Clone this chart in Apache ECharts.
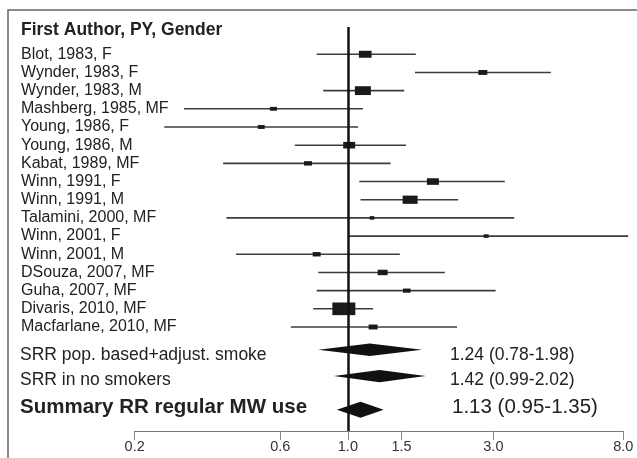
<!DOCTYPE html>
<html>
<head>
<meta charset="utf-8">
<script src="https://cdn.jsdelivr.net/npm/echarts@6/dist/echarts.min.js"></script>
<style>
  html, body { margin: 0; padding: 0; background: #fff; }
  #chart { width: 637px; height: 458px; }
</style>
</head>
<body>
<div id="chart"></div>
<script>
// study rows (top to bottom)
const studies = [
  'Blot, 1983, F', 'Wynder, 1983, F', 'Wynder, 1983, M', 'Mashberg, 1985, MF',
  'Young, 1986, F', 'Young, 1986, M', 'Kabat, 1989, MF', 'Winn, 1991, F',
  'Winn, 1991, M', 'Talamini, 2000, MF', 'Winn, 2001, F', 'Winn, 2001, M',
  'DSouza, 2007, MF', 'Guha, 2007, MF', 'Divaris, 2010, MF', 'Macfarlane, 2010, MF'
]
const rr = [1.14, 2.77, 1.12, 0.57, 0.52, 1.01, 0.74, 1.90, 1.60, 1.20, 2.84, 0.79, 1.30, 1.56, 0.97, 1.21]
const lower = [0.79, 1.66, 0.83, 0.29, 0.25, 0.67, 0.39, 1.09, 1.10, 0.40, 1.00, 0.43, 0.80, 0.79, 0.77, 0.65]
const upper = [1.67, 4.63, 1.53, 1.12, 1.08, 1.55, 1.38, 3.27, 2.30, 3.51, 8.3, 1.48, 2.08, 3.05, 1.21, 2.28]
const weights = [7.6, 3.8, 12.1, 2.3, 2.3, 6.8, 3.0, 6.8, 10.6, 1.0, 1.2, 3.0, 4.7, 2.7, 25, 3.8]

// pooled estimates
const pooledLabels = ['SRR pop. based+adjust. smoke', 'SRR in no smokers', 'Summary RR regular MW use']
const pooledRR = [1.18, 1.27, 1.10]
const pooledLower = [0.80, 0.90, 0.92]
const pooledUpper = [1.75, 1.80, 1.31]
const pooledText = ['1.24 (0.78-1.98)', '1.42 (0.99-2.02)', '1.13 (0.95-1.35)']
const pooledRows = [17.25, 18.7, 20.55]

const tickValues = [0.2, 0.6, 1.0, 1.5, 3.0, 8.0]
const tickLabels = ['0.2', '0.6', '1.0', '1.5', '3.0', '8.0']

const FONT = '"Liberation Sans", Arial, Helvetica, sans-serif'

const chart = echarts.init(document.getElementById('chart'))

function renderStudy(params, api) {
  const row = api.value(3)
  const p = api.coord([api.value(0), row])
  const l = api.coord([api.value(1), row])
  const u = api.coord([api.value(2), row])
  const w = 4.6 * Math.sqrt(api.value(4))
  const h = Math.max(3.5, w * 0.55)
  return {
    type: 'group',
    children: [
      {
        type: 'line',
        shape: { x1: l[0], y1: l[1], x2: u[0], y2: u[1] },
        style: { stroke: '#3c3c3c', lineWidth: 1.6 }
      },
      {
        type: 'rect',
        shape: { x: p[0] - w / 2, y: p[1] - h / 2, width: w, height: h },
        style: { fill: '#1a1a1a' }
      },
      {
        type: 'text',
        x: 21,
        y: p[1],
        style: {
          text: studies[params.dataIndex],
          fontSize: 16,
          fontFamily: FONT,
          fill: '#222',
          verticalAlign: 'middle'
        }
      }
    ]
  }
}

function renderPooled(params, api) {
  const i = params.dataIndex
  const row = api.value(3)
  const p = api.coord([api.value(0), row])
  const l = api.coord([api.value(1), row])
  const u = api.coord([api.value(2), row])
  const half = i === 2 ? 8 : 6.2
  const dy = [5, 4, -2][i]
  const big = i === 2
  return {
    type: 'group',
    children: [
      {
        type: 'polygon',
        shape: { points: [[l[0], p[1]], [p[0], p[1] - half], [u[0], p[1]], [p[0], p[1] + half]] },
        style: { fill: '#111' }
      },
      {
        type: 'text',
        x: 20,
        y: p[1] + dy,
        style: {
          text: pooledLabels[i],
          fontSize: big ? 20.5 : 17.5,
          fontWeight: big ? 'bold' : 'normal',
          fontFamily: FONT,
          fill: '#222',
          verticalAlign: 'middle'
        }
      },
      {
        type: 'text',
        x: big ? 452 : 450,
        y: p[1] + dy,
        style: {
          text: pooledText[i],
          fontSize: big ? 20.5 : 17.5,
          fontFamily: FONT,
          fill: '#222',
          verticalAlign: 'middle'
        }
      }
    ]
  }
}

const option = {
  animation: false,
  backgroundColor: '#fff',
  grid: { left: 134.7, right: 13.7, top: 27, bottom: 27 },
  xAxis: {
    type: 'log',
    logBase: 10,
    min: 0.2,
    max: 8,
    axisLine: { show: true, onZero: false, lineStyle: { color: '#777', width: 1 } },
    axisTick: { show: true, customValues: tickValues, length: 9, lineStyle: { color: '#888' } },
    axisLabel: {
      show: true,
      customValues: tickValues,
      margin: 8,
      fontSize: 14.5,
      fontFamily: FONT,
      color: '#333',
      formatter: v => tickLabels[tickValues.findIndex(t => Math.abs(t - v) < 1e-6)] || ''
    },
    splitLine: { show: false }
  },
  yAxis: {
    type: 'value',
    inverse: true,
    min: -0.5,
    max: 21.72,
    show: false
  },
  graphic: [
    {
      type: 'rect',
      shape: { x: 8, y: 10, width: 700, height: 500 },
      style: { fill: 'none', stroke: '#666', lineWidth: 1.5 },
      silent: true
    },
    {
      type: 'text',
      x: 21,
      y: 30,
      style: {
        text: 'First Author, PY, Gender',
        fontSize: 17.5,
        fontWeight: 'bold',
        fontFamily: FONT,
        fill: '#222',
        verticalAlign: 'middle'
      }
    }
  ],
  series: [
    {
      type: 'custom',
      clip: false,
      renderItem: renderStudy,
      encode: { x: [0, 1, 2], y: 3 },
      data: studies.map((s, i) => [rr[i], lower[i], upper[i], i + 1, weights[i]]),
      markLine: {
        silent: true,
        symbol: ['none', 'none'],
        label: { show: false },
        lineStyle: { color: '#111', width: 2.5, type: 'solid' },
        data: [{ xAxis: 1 }]
      }
    },
    {
      type: 'custom',
      clip: false,
      renderItem: renderPooled,
      encode: { x: [0, 1, 2], y: 3 },
      data: pooledLabels.map((s, i) => [pooledRR[i], pooledLower[i], pooledUpper[i], pooledRows[i]])
    }
  ]
}

chart.setOption(option)
</script>
</body>
</html>
